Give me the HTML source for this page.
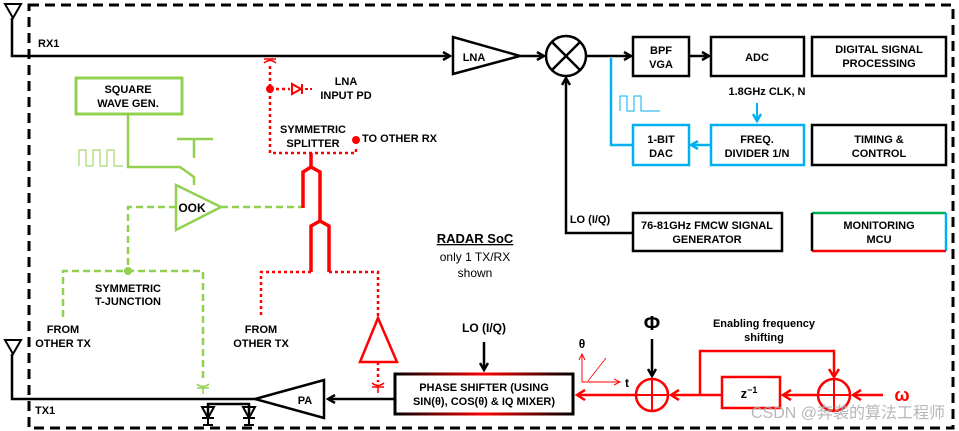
<!DOCTYPE html>
<html><head><meta charset="utf-8"><style>
html,body{margin:0;padding:0;background:#fff;}
svg{display:block;font-family:"Liberation Sans","Noto Sans CJK SC",sans-serif;}
.t{font-size:11px;font-weight:bold;text-anchor:middle;}
</style></head><body>
<svg width="959" height="431" viewBox="0 0 959 431" xmlns="http://www.w3.org/2000/svg">
<defs>
<marker id="ak" markerWidth="10" markerHeight="10" refX="8" refY="5" orient="auto" markerUnits="userSpaceOnUse"><path d="M1,1 L8,5 L1,9" fill="none" stroke="#000" stroke-width="2.5"/></marker>
<marker id="ar" markerWidth="12" markerHeight="12" refX="9" refY="6" orient="auto" markerUnits="userSpaceOnUse"><path d="M1,1 L9,6 L1,11" fill="none" stroke="#f00" stroke-width="2.5"/></marker>
<marker id="ab" markerWidth="10" markerHeight="10" refX="8" refY="5" orient="auto" markerUnits="userSpaceOnUse"><path d="M1,1 L8,5 L1,9" fill="none" stroke="#00b0f0" stroke-width="2.5"/></marker>
<marker id="ar2" markerWidth="8" markerHeight="8" refX="7" refY="4" orient="auto" markerUnits="userSpaceOnUse"><path d="M1,1 L7,4 L1,7" fill="none" stroke="#f00" stroke-width="1"/></marker>
<linearGradient id="gps" x1="0" x2="1"><stop offset="0" stop-color="#000"/><stop offset="0.5" stop-color="#f00"/><stop offset="1" stop-color="#000"/></linearGradient>
</defs>
<rect x="0" y="0" width="959" height="431" fill="#fff"/>
<rect x="29" y="5" width="924" height="423" fill="none" stroke="#000" stroke-width="3" stroke-dasharray="10,6"/>

<!-- RX -->
<path d="M5,4 L21,4 L13,18 Z" fill="none" stroke="#000" stroke-width="2"/>
<path d="M12,18 V56 H450" fill="none" stroke="#000" stroke-width="2.5" marker-end="url(#ak)"/>
<text x="38" y="47" font-size="11" font-weight="bold">RX1</text>
<path d="M453,37 L453,74 L520,56 Z" fill="#fff" stroke="#000" stroke-width="2.5"/>
<text x="474" y="61" class="t">LNA</text>
<path d="M520,56 H544" stroke="#000" stroke-width="2.5" marker-end="url(#ak)"/>
<circle cx="566" cy="56" r="20" fill="#fff" stroke="#000" stroke-width="2.5"/>
<path d="M552,42 L580,70 M580,42 L552,70" stroke="#000" stroke-width="2.5"/>
<path d="M586,56 H631" stroke="#000" stroke-width="2.5" marker-end="url(#ak)"/>
<rect x="633" y="37" width="56" height="39" fill="#fff" stroke="#000" stroke-width="2.5"/>
<text x="661" y="54" class="t">BPF</text><text x="661" y="68" class="t">VGA</text>
<path d="M689,56 H709" stroke="#000" stroke-width="2.5" marker-end="url(#ak)"/>
<rect x="711" y="37" width="93" height="39" fill="#fff" stroke="#000" stroke-width="2.5"/>
<text x="757" y="61" class="t">ADC</text>
<rect x="812" y="37" width="134" height="39" fill="#fff" stroke="#000" stroke-width="2.5"/>
<text x="879" y="53" class="t">DIGITAL  SIGNAL</text><text x="879" y="67" class="t">PROCESSING</text>

<!-- blue -->
<path d="M611,58 V145 H633" fill="none" stroke="#00b0f0" stroke-width="2.5"/>
<path d="M620,111 V96 H627 V111 H634 V96 H641 V111 H660" fill="none" stroke="#00b0f0" stroke-width="1"/>
<rect x="633" y="125" width="56" height="40" fill="#fff" stroke="#00b0f0" stroke-width="2.5"/>
<text x="661" y="143" class="t">1-BIT</text><text x="661" y="157" class="t">DAC</text>
<rect x="711" y="125" width="93" height="40" fill="#fff" stroke="#00b0f0" stroke-width="2.5"/>
<text x="757" y="143" class="t">FREQ.</text><text x="757" y="157" class="t">DIVIDER  1/N</text>
<path d="M711,145 H691" stroke="#00b0f0" stroke-width="2.5" marker-end="url(#ab)"/>
<text x="767" y="95" class="t">1.8GHz  CLK, N</text>
<path d="M757,103 V121" stroke="#00b0f0" stroke-width="2" marker-end="url(#ab)"/>
<rect x="812" y="125" width="134" height="40" fill="#fff" stroke="#000" stroke-width="2.5"/>
<text x="879" y="143" class="t">TIMING  &amp;</text><text x="879" y="157" class="t">CONTROL</text>

<!-- LO -->
<path d="M633,233 H566 V78" fill="none" stroke="#000" stroke-width="2.5" marker-end="url(#ak)"/>
<text x="590" y="223" font-size="11" font-weight="bold" text-anchor="middle">LO (I/Q)</text>
<rect x="633" y="213" width="149" height="38" fill="#fff" stroke="#000" stroke-width="2.5"/>
<text x="707" y="229" class="t">76-81GHz FMCW  SIGNAL</text><text x="707" y="243" class="t">GENERATOR</text>
<path d="M812,213 H946" stroke="#00b050" stroke-width="2.5"/>
<path d="M946,213 V251" stroke="#00b0f0" stroke-width="2.5"/>
<path d="M946,251 H812" stroke="#f00" stroke-width="2.5"/>
<path d="M812,251 V213" stroke="#000" stroke-width="2.5"/>
<text x="879" y="229" class="t">MONITORING</text><text x="879" y="243" class="t">MCU</text>

<text x="475" y="243" font-size="13" font-weight="bold" text-anchor="middle" text-decoration="underline">RADAR  SoC</text>
<text x="475" y="261" font-size="12" text-anchor="middle">only 1 TX/RX</text>
<text x="475" y="277" font-size="12" text-anchor="middle">shown</text>

<!-- green -->
<rect x="76" y="78" width="106" height="36" fill="#fff" stroke="#92d050" stroke-width="3"/>
<text x="128" y="93" class="t">SQUARE</text><text x="128" y="107" class="t">WAVE GEN.</text>
<path d="M128,114 V167 H180 L194,177 V185" fill="none" stroke="#92d050" stroke-width="2.5"/>
<path d="M177,139 H213 M194,139 V158" stroke="#92d050" stroke-width="2.5"/>
<path d="M79,166 V150 H86 V166 H93 V150 H100 V166 H107 V150 H114 V166 H123" fill="none" stroke="#92d050" stroke-width="1"/>
<path d="M176,185 L176,230 L221,207 Z" fill="#fff" stroke="#92d050" stroke-width="2.5"/>
<text x="192" y="212" class="t" style="font-size:12px">OOK</text>
<g fill="none" stroke="#92d050" stroke-width="2.5" stroke-dasharray="7,4">
<path d="M221,207 H302"/>
<path d="M176,207 H128 V271"/>
<path d="M63,317 V271 H203 V380"/>
</g>
<circle cx="128" cy="271" r="4" fill="#92d050"/>
<path d="M197,384 Q203,389 209,384 M197,388 H209 M203,388 V394" fill="none" stroke="#92d050" stroke-width="1.5"/>
<text x="128" y="292" class="t">SYMMETRIC</text><text x="128" y="305" class="t">T-JUNCTION</text>
<text x="63" y="333" class="t">FROM</text><text x="63" y="347" class="t">OTHER  TX</text>
<text x="261" y="333" class="t">FROM</text><text x="261" y="347" class="t">OTHER  TX</text>

<!-- red splitter -->
<path d="M264,59 H276 M264,63 Q270,58 276,63" fill="none" stroke="#f00" stroke-width="1.5"/>
<g fill="none" stroke="#f00" stroke-width="2.5" stroke-dasharray="3,3">
<path d="M270,66 V153 H356 V146"/>
<path d="M270,89 H290"/>
<path d="M311,272 H261 V318"/>
<path d="M329,272 H378 V318"/>
<path d="M378,362 V382"/>
</g>
<circle cx="270" cy="89" r="4" fill="#f00"/>
<circle cx="356" cy="140" r="4" fill="#f00"/>
<path d="M292,84 L292,94 L301,89 Z M302,84 V94" fill="none" stroke="#f00" stroke-width="2"/>
<path d="M305,89 H312" stroke="#f00" stroke-width="2" stroke-dasharray="3,2"/>
<text x="346" y="85" class="t">LNA</text><text x="346" y="99" class="t">INPUT  PD</text>
<text x="313" y="133" class="t">SYMMETRIC</text><text x="313" y="147" class="t">SPLITTER</text>
<text x="362" y="142" font-size="11" font-weight="bold">TO OTHER  RX</text>
<path d="M311,153 V167 L303,172 V208 M311,167 L320,172 V221 L311,226 V272 M320,221 L329,226 V272" fill="none" stroke="#f00" stroke-width="3.5"/>
<path d="M360,362 L397,362 L378,318 Z" fill="#fff" stroke="#f00" stroke-width="2.5"/>
<path d="M372,383 Q378,388 384,383 M372,387 H384 M378,387 V393" fill="none" stroke="#f00" stroke-width="1.5"/>

<!-- TX -->
<path d="M5,340 L21,340 L13,354 Z" fill="none" stroke="#000" stroke-width="2"/>
<path d="M12,354 V399 H255" fill="none" stroke="#000" stroke-width="2.5"/>
<text x="35" y="414" font-size="11" font-weight="bold">TX1</text>
<path d="M255,399 L324,380 L324,418 Z" fill="#fff" stroke="#000" stroke-width="2.5"/>
<text x="305" y="404" class="t">PA</text>
<path d="M395,399 H328" stroke="#000" stroke-width="2.5" marker-end="url(#ak)"/>
<path d="M208,418 V404 H249 V418" fill="none" stroke="#000" stroke-width="2.5"/>
<path d="M202,407 H214 L208,418 Z M202,418 H214 M208,418 V425 M203,425 H213" fill="none" stroke="#000" stroke-width="2"/>
<path d="M243,407 H255 L249,418 Z M243,418 H255 M249,418 V425 M244,425 H254" fill="none" stroke="#000" stroke-width="2"/>

<!-- phase shifter -->
<rect x="395" y="374" width="178" height="40" fill="#fff" stroke="url(#gps)" stroke-width="3"/>
<text x="484" y="391" class="t">PHASE  SHIFTER  (USING</text>
<text x="484" y="405" class="t">SIN(θ), COS(θ) &amp; IQ MIXER)</text>
<text x="484" y="332" font-size="12" font-weight="bold" text-anchor="middle">LO (I/Q)</text>
<path d="M484,342 V370" stroke="#000" stroke-width="2.5" marker-end="url(#ak)"/>
<path d="M635,395 H577" stroke="#f00" stroke-width="2.5" marker-end="url(#ar)"/>
<path d="M582,382 V354" stroke="#f00" stroke-width="1" marker-end="url(#ar2)"/>
<path d="M582,382 H620" stroke="#f00" stroke-width="1" marker-end="url(#ar2)"/>
<path d="M588,381 L606,358" stroke="#f00" stroke-width="0.8"/>
<text x="582" y="348" font-size="12" font-weight="bold" text-anchor="middle">θ</text>
<text x="627" y="387" font-size="12" font-weight="bold" text-anchor="middle">t</text>
<circle cx="652" cy="395" r="16" fill="none" stroke="#f00" stroke-width="2.5"/>
<path d="M636,395 H668 M652,379 V411" stroke="#f00" stroke-width="2"/>
<text x="652" y="330" font-size="20" font-weight="bold" text-anchor="middle">Φ</text>
<path d="M652,339 V376" stroke="#000" stroke-width="2.5" marker-end="url(#ak)"/>
<path d="M722,395 H671" stroke="#f00" stroke-width="2.5" marker-end="url(#ar)"/>
<path d="M700,395 V351 H834 V377" fill="none" stroke="#f00" stroke-width="2.5" marker-end="url(#ar)"/>
<rect x="722" y="377" width="58" height="31" fill="#fff" stroke="#f00" stroke-width="2.5"/>
<text x="749" y="398" font-size="13" font-weight="bold" text-anchor="middle">z<tspan dy="-5" font-size="9">−1</tspan></text>
<path d="M818,395 H783" stroke="#f00" stroke-width="2.5" marker-end="url(#ar)"/>
<circle cx="834" cy="395" r="16" fill="none" stroke="#f00" stroke-width="2.5"/>
<path d="M818,395 H850 M834,379 V411" stroke="#f00" stroke-width="2"/>
<path d="M883,395 H853" stroke="#f00" stroke-width="2.5" marker-end="url(#ar)"/>
<text x="902" y="401" font-size="18" font-weight="bold" fill="#f00" text-anchor="middle">ω</text>
<text x="764" y="327" class="t">Enabling  frequency</text>
<text x="764" y="341" class="t">shifting</text>
<text x="945" y="418" font-size="16" fill="#aaa" fill-opacity="0.85" text-anchor="end">CSDN @奔袭的算法工程师</text>
</svg>
</body></html>
